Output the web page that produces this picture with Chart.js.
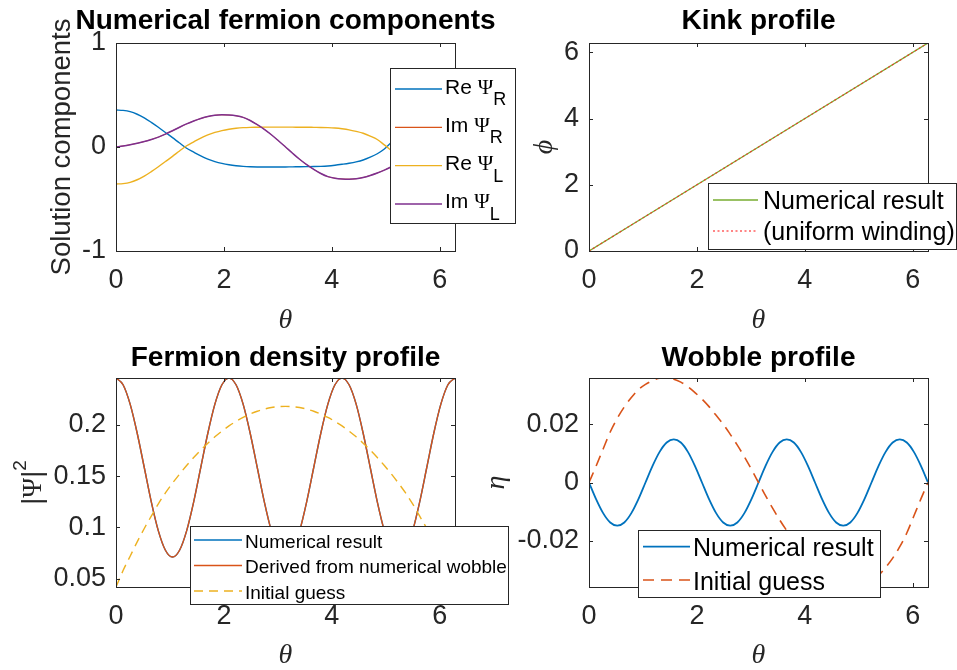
<!DOCTYPE html>
<html>
<head>
<meta charset="utf-8">
<script src="https://cdn.jsdelivr.net/npm/chart.js@4.4.1/dist/chart.umd.min.js"></script>
<style>
  html, body { margin: 0; padding: 0; background: #fff; }
  #fig { position: relative; width: 957px; height: 670px; overflow: hidden; background: #fff; }
  #fig canvas { position: absolute; }
</style>
</head>
<body>
<div id="fig">
  <canvas id="kink" width="477" height="335" style="left:480px;top:0;width:477px;height:335px"></canvas>
  <canvas id="components" width="540" height="335" style="left:0;top:0;width:540px;height:335px"></canvas>
  <canvas id="wobble" width="477" height="335" style="left:480px;top:335px;width:477px;height:335px"></canvas>
  <canvas id="density" width="540" height="335" style="left:0;top:335px;width:540px;height:335px"></canvas>
</div>
<script>
// ---- sampled solution on the circle, theta in [0, 2*pi] ----
const TWO_PI = 6.2832;
const theta = [0.000, 0.131, 0.262, 0.393, 0.524, 0.654, 0.785, 0.916, 1.047, 1.178, 1.309, 1.440,
  1.571, 1.702, 1.833, 1.963, 2.094, 2.225, 2.356, 2.487, 2.618, 2.749, 2.880, 3.011, 3.142, 3.272,
  3.403, 3.534, 3.665, 3.796, 3.927, 4.058, 4.189, 4.320, 4.451, 4.581, 4.712, 4.843, 4.974, 5.105,
  5.236, 5.367, 5.498, 5.629, 5.760, 5.890, 6.021, 6.152, 6.283];

// tick labels
const thetaTicks = [0, 2, 4, 6];
const componentTicks = [-1, 0, 1];
const kinkTicks = [0, 2, 4, 6];
const densityTicks = [0.05, 0.1, 0.15, 0.2];
const wobbleTicks = [-0.02, 0, 0.02];

// fermion components
const reRight = [0.356, 0.352, 0.340, 0.315, 0.280, 0.237, 0.190, 0.140, 0.090, 0.038, -0.012, -0.050,
  -0.086, -0.116, -0.140, -0.158, -0.171, -0.180, -0.186, -0.190, -0.192, -0.193, -0.193, -0.193, -0.192,
  -0.191, -0.190, -0.189, -0.188, -0.186, -0.182, -0.175, -0.166, -0.156, -0.143, -0.125, -0.098, -0.065,
  -0.020, 0.045, 0.105, 0.160, 0.210, 0.250, 0.285, 0.315, 0.336, 0.350, 0.356];
const imRight = [0.000, 0.010, 0.022, 0.036, 0.052, 0.072, 0.095, 0.124, 0.156, 0.190, 0.222, 0.250,
  0.274, 0.293, 0.305, 0.309, 0.307, 0.300, 0.285, 0.255, 0.215, 0.170, 0.118, 0.060, 0.000, -0.060,
  -0.118, -0.170, -0.215, -0.255, -0.285, -0.300, -0.307, -0.309, -0.305, -0.293, -0.274, -0.250,
  -0.222, -0.190, -0.156, -0.124, -0.095, -0.072, -0.052, -0.036, -0.022, -0.010, 0.000];
const reLeft = [-0.356, -0.352, -0.340, -0.315, -0.280, -0.237, -0.190, -0.140, -0.090, -0.038, 0.012,
  0.050, 0.086, 0.116, 0.140, 0.158, 0.171, 0.180, 0.186, 0.189, 0.190, 0.191, 0.191, 0.191, 0.191,
  0.191, 0.190, 0.190, 0.189, 0.188, 0.186, 0.182, 0.175, 0.165, 0.150, 0.132, 0.105, 0.072, 0.020,
  -0.035, -0.090, -0.140, -0.185, -0.228, -0.267, -0.302, -0.330, -0.348, -0.356];
const imLeft = [0.000, 0.010, 0.022, 0.036, 0.052, 0.072, 0.095, 0.124, 0.156, 0.190, 0.222, 0.250,
  0.274, 0.293, 0.305, 0.309, 0.307, 0.300, 0.285, 0.255, 0.215, 0.170, 0.118, 0.060, 0.000, -0.060,
  -0.118, -0.170, -0.215, -0.255, -0.285, -0.300, -0.307, -0.309, -0.305, -0.293, -0.274, -0.250,
  -0.222, -0.190, -0.156, -0.124, -0.095, -0.072, -0.052, -0.036, -0.022, -0.010, 0.000];

// kink profile
const kinkTheta = [0, 1.571, 3.142, 4.712, 6.283];
const kinkNumerical = [0, 1.571, 3.142, 4.712, 6.283];
const kinkUniform = [0, 1.571, 3.142, 4.712, 6.283];

// fermion density |Psi|^2
const densityNumerical = [0.2456, 0.2390, 0.2201, 0.1918, 0.1584, 0.1250, 0.0967, 0.0778, 0.0712,
  0.0778, 0.0967, 0.1250, 0.1584, 0.1918, 0.2201, 0.2390, 0.2456, 0.2390, 0.2201, 0.1918, 0.1584,
  0.1250, 0.0967, 0.0778, 0.0712, 0.0778, 0.0967, 0.1250, 0.1584, 0.1918, 0.2201, 0.2390, 0.2456,
  0.2390, 0.2201, 0.1918, 0.1584, 0.1250, 0.0967, 0.0778, 0.0712, 0.0778, 0.0967, 0.1250, 0.1584,
  0.1918, 0.2201, 0.2390, 0.2456];
const densityDerived = [0.2456, 0.2390, 0.2201, 0.1918, 0.1584, 0.1250, 0.0967, 0.0778, 0.0712,
  0.0778, 0.0967, 0.1250, 0.1584, 0.1918, 0.2201, 0.2390, 0.2456, 0.2390, 0.2201, 0.1918, 0.1584,
  0.1250, 0.0967, 0.0778, 0.0712, 0.0778, 0.0967, 0.1250, 0.1584, 0.1918, 0.2201, 0.2390, 0.2456,
  0.2390, 0.2201, 0.1918, 0.1584, 0.1250, 0.0967, 0.0778, 0.0712, 0.0778, 0.0967, 0.1250, 0.1584,
  0.1918, 0.2201, 0.2390, 0.2456];
const densityGuess = [0.0420, 0.0580, 0.0720, 0.0860, 0.0990, 0.1110, 0.1230, 0.1336, 0.1431, 0.1520,
  0.1603, 0.1681, 0.1754, 0.1821, 0.1883, 0.1939, 0.1989, 0.2033, 0.2072, 0.2105, 0.2132, 0.2153,
  0.2168, 0.2177, 0.2180, 0.2177, 0.2168, 0.2153, 0.2132, 0.2105, 0.2072, 0.2033, 0.1989, 0.1939,
  0.1883, 0.1821, 0.1754, 0.1681, 0.1603, 0.1520, 0.1431, 0.1336, 0.1230, 0.1110, 0.0990, 0.0860,
  0.0720, 0.0580, 0.0420];

// wobble eta
const wobbleNumerical = [0, -0.0057, -0.0105, -0.0137, -0.0148, -0.0137, -0.0105, -0.0057, 0,
  0.0057, 0.0105, 0.0137, 0.0148, 0.0137, 0.0105, 0.0057, 0, -0.0057, -0.0105, -0.0137, -0.0148,
  -0.0137, -0.0105, -0.0057, 0, 0.0057, 0.0105, 0.0137, 0.0148, 0.0137, 0.0105, 0.0057, 0, -0.0057,
  -0.0105, -0.0137, -0.0148, -0.0137, -0.0105, -0.0057, 0, 0.0057, 0.0105, 0.0137, 0.0148, 0.0137,
  0.0105, 0.0057, 0];
const wobbleGuess = [0, 0.0056, 0.0115, 0.0173, 0.0220, 0.0259, 0.0291, 0.0318, 0.0336, 0.0349,
  0.0357, 0.0358, 0.0354, 0.0344, 0.0328, 0.0308, 0.0286, 0.0260, 0.0230, 0.0200, 0.0165, 0.0128,
  0.0088, 0.0045, 0, -0.0045, -0.0088, -0.0128, -0.0165, -0.0200, -0.0230, -0.0260, -0.0286, -0.0308,
  -0.0328, -0.0344, -0.0354, -0.0358, -0.0357, -0.0349, -0.0336, -0.0318, -0.0291, -0.0259, -0.0220,
  -0.0173, -0.0115, -0.0056, 0];

// ---- styling ----
const AXIS = '#262626';
const SANS = '"Liberation Sans", Arial, Helvetica, sans-serif';
const SERIF = '"Liberation Serif", "DejaVu Serif", "Times New Roman", serif';
const BLUE = '#0072BD', ORANGE = '#D95319', YELLOW = '#EDB120', PURPLE = '#7E2F8E', GREEN = '#77AC30';
const TICK_LEN = 4;

// rich label: Greek letters in serif, "_x" subscript, "^x" superscript
function richParts(label, size) {
  const out = [];
  const re = /_(\w)|\^(\w)|([\u0370-\u03ff])|([^_^\u0370-\u03ff]+)/g;
  let m;
  while ((m = re.exec(label))) {
    if (m[1]) out.push({ t: m[1], font: `${Math.round(size * 0.86)}px ${SANS}`, dy: size * 0.55 });
    else if (m[2]) out.push({ t: m[2], font: `${Math.round(size * 0.7)}px ${SANS}`, dy: -size * 0.6 });
    else if (m[3]) out.push({ t: m[3], font: `${size}px ${SERIF}`, dy: 0 });
    else out.push({ t: m[4], font: `${size}px ${SANS}`, dy: 0 });
  }
  return out;
}
function partsWidth(ctx, ps) {
  let w = 0;
  for (const p of ps) { ctx.font = p.font; w += ctx.measureText(p.t).width; }
  return w;
}
function drawParts(ctx, ps, x, y) {
  for (const p of ps) { ctx.font = p.font; ctx.fillText(p.t, x, y + p.dy); x += ctx.measureText(p.t).width; }
}

// boxed axes with inward ticks, overlay legend, titles and axis labels
const matlabAxes = {
  id: 'matlabAxes',
  afterDatasetsDraw(chart, args, o) {
    const ctx = chart.ctx, a = chart.chartArea;
    const xs = chart.scales.x, ys = chart.scales.y;
    ctx.save();
    ctx.strokeStyle = AXIS;
    ctx.lineWidth = 1;
    ctx.beginPath();
    xs.ticks.forEach(t => {
      const p = Math.round(xs.getPixelForValue(t.value)) + 0.5;
      ctx.moveTo(p, a.bottom); ctx.lineTo(p, a.bottom - TICK_LEN);
      ctx.moveTo(p, a.top); ctx.lineTo(p, a.top + TICK_LEN);
    });
    ys.ticks.forEach(t => {
      const p = Math.round(ys.getPixelForValue(t.value)) + 0.5;
      ctx.moveTo(a.left, p); ctx.lineTo(a.left + TICK_LEN, p);
      ctx.moveTo(a.right, p); ctx.lineTo(a.right - TICK_LEN, p);
    });
    ctx.stroke();
    ctx.strokeRect(Math.round(a.left) + 0.5, Math.round(a.top) + 0.5,
      Math.round(a.right - a.left), Math.round(a.bottom - a.top));

    // legend box drawn over the data
    const lg = o.legend;
    ctx.fillStyle = '#fff';
    ctx.fillRect(lg.x, lg.y, lg.w, lg.h);
    ctx.strokeStyle = AXIS;
    ctx.lineWidth = 1;
    ctx.strokeRect(lg.x + 0.5, lg.y + 0.5, lg.w, lg.h);
    chart.data.datasets.forEach((ds, i) => {
      const y = lg.row0 + i * lg.gap;
      ctx.save();
      ctx.strokeStyle = ds.borderColor;
      ctx.lineWidth = Math.max(ds.borderWidth, 1.2);
      ctx.setLineDash(ds.borderDash || []);
      ctx.beginPath();
      ctx.moveTo(lg.lineX, y);
      ctx.lineTo(lg.lineX + lg.lineLen, y);
      ctx.stroke();
      ctx.restore();
      ctx.fillStyle = '#000';
      ctx.textBaseline = 'alphabetic';
      ctx.textAlign = 'left';
      drawParts(ctx, richParts(ds.label, lg.size), lg.textX, y + lg.shift);
    });
    ctx.restore();
  },
  afterDraw(chart, args, o) {
    const ctx = chart.ctx, a = chart.chartArea;
    const cx = (a.left + a.right) / 2, cy = (a.top + a.bottom) / 2;
    ctx.save();
    ctx.textBaseline = 'alphabetic';
    ctx.textAlign = 'center';
    ctx.fillStyle = '#000';
    ctx.font = `bold 28px ${SANS}`;
    ctx.fillText(o.title, cx, o.titleY);

    ctx.fillStyle = AXIS;
    ctx.font = `italic 28px ${SERIF}`;
    ctx.fillText(o.xLabel, cx, 328);

    ctx.textAlign = 'left';
    ctx.translate(o.yLabelX, cy);
    ctx.rotate(-Math.PI / 2);
    const ps = o.yParts;
    drawParts(ctx, ps, -partsWidth(ctx, ps) / 2, 0);
    ctx.restore();
  }
};

function series(label, xs, ys, color, width, dash) {
  return {
    label, data: xs.map((x, i) => ({ x, y: ys[i] })),
    borderColor: color, borderWidth: width, borderDash: dash || [],
    pointRadius: 0, fill: false, cubicInterpolationMode: 'monotone'
  };
}

function makeChart(id, spec) {
  const canvas = document.getElementById(id);
  const W = canvas.width, H = canvas.height;
  const n = spec.datasets.length;
  spec.datasets.forEach((d, i) => { d.order = n - i; });
  const tickFont = { family: SANS, size: 27 };
  return new Chart(canvas, {
    type: 'line',
    data: { datasets: spec.datasets },
    options: {
      responsive: false,
      animation: false,
      events: [],
      layout: { padding: { left: 0, top: spec.area.top, right: W - spec.area.right, bottom: 0 } },
      plugins: { legend: { display: false }, tooltip: { enabled: false }, matlabAxes: spec.decor },
      scales: {
        x: {
          type: 'linear', min: 0, max: TWO_PI,
          afterBuildTicks: s => { s.ticks = thetaTicks.map(v => ({ value: v })); },
          afterFit: s => { s.height = H - spec.area.bottom; },
          grid: { display: false, drawTicks: false }, border: { display: false },
          ticks: { font: tickFont, color: AXIS, padding: 13, maxRotation: 0, autoSkip: false, callback: v => String(v) }
        },
        y: {
          type: 'linear', min: spec.yMin, max: spec.yMax,
          afterBuildTicks: s => { s.ticks = spec.yTicks.map(v => ({ value: v })); },
          afterFit: s => { s.width = spec.area.left; },
          grid: { display: false, drawTicks: false }, border: { display: false },
          ticks: { font: tickFont, color: AXIS, padding: 10, autoSkip: false, callback: v => String(v) }
        }
      }
    },
    plugins: [matlabAxes]
  });
}

makeChart('kink', {
  area: { left: 109, top: 43, right: 448, bottom: 251 },
  yMin: 0, yMax: TWO_PI, yTicks: kinkTicks,
  datasets: [
    series('Numerical result', kinkTheta, kinkNumerical, GREEN, 1.4),
    series('(uniform winding)', kinkTheta, kinkUniform, 'rgba(255,40,40,0.75)', 1.3, [2, 2.5])
  ],
  decor: {
    title: 'Kink profile', titleY: 29, xLabel: 'θ', yLabelX: 72,
    yParts: [{ t: 'ϕ', font: `italic 28px ${SERIF}`, dy: 0 }],
    legend: { x: 228, y: 183, w: 248, h: 66, row0: 200, gap: 31, lineX: 233, lineLen: 45, textX: 283, size: 25, shift: 8.5 }
  }
});

makeChart('components', {
  area: { left: 116, top: 43, right: 455, bottom: 251 },
  yMin: -1, yMax: 1, yTicks: componentTicks,
  datasets: [
    series('Re Ψ_R', theta, reRight, BLUE, 1.4),
    series('Im Ψ_R', theta, imRight, ORANGE, 0.8),
    series('Re Ψ_L', theta, reLeft, YELLOW, 1.4),
    series('Im Ψ_L', theta, imLeft, PURPLE, 1.5)
  ],
  decor: {
    title: 'Numerical fermion components', titleY: 29, xLabel: 'θ', yLabelX: 70,
    yParts: [{ t: 'Solution components', font: `27.5px ${SANS}`, dy: 0 }],
    legend: { x: 390, y: 68, w: 125, h: 155, row0: 89, gap: 38.3, lineX: 395, lineLen: 47, textX: 445, size: 21, shift: 4.5 }
  }
});

makeChart('wobble', {
  area: { left: 109, top: 43, right: 448, bottom: 252 },
  yMin: -0.0358, yMax: 0.0358, yTicks: wobbleTicks,
  datasets: [
    series('Numerical result', theta, wobbleNumerical, BLUE, 1.8),
    series('Initial guess', theta, wobbleGuess, ORANGE, 1.6, [11, 7])
  ],
  decor: {
    title: 'Wobble profile', titleY: 31, xLabel: 'θ', yLabelX: 24,
    yParts: [{ t: 'η', font: `italic 28px ${SERIF}`, dy: 0 }],
    legend: { x: 158, y: 195, w: 242, h: 67, row0: 211.7, gap: 33.3, lineX: 163, lineLen: 47, textX: 213, size: 25, shift: 9.5 }
  }
});

makeChart('density', {
  area: { left: 116, top: 43, right: 455, bottom: 252 },
  yMin: 0.042, yMax: 0.2456, yTicks: densityTicks,
  datasets: [
    series('Numerical result', theta, densityNumerical, BLUE, 1.4),
    series('Derived from numerical wobble', theta, densityDerived, ORANGE, 1.4),
    series('Initial guess', theta, densityGuess, YELLOW, 1.4, [9, 6])
  ],
  decor: {
    title: 'Fermion density profile', titleY: 31, xLabel: 'θ', yLabelX: 41,
    yParts: [
      { t: '|', font: `27px ${SANS}`, dy: 0 },
      { t: 'Ψ', font: `27px ${SERIF}`, dy: 0 },
      { t: '|', font: `27px ${SANS}`, dy: 0 },
      { t: '2', font: `19px ${SANS}`, dy: -15 }
    ],
    legend: { x: 190, y: 191, w: 318, h: 78, row0: 205, gap: 25.5, lineX: 194, lineLen: 48, textX: 245, size: 19, shift: 7.5 }
  }
});
</script>
</body>
</html>
